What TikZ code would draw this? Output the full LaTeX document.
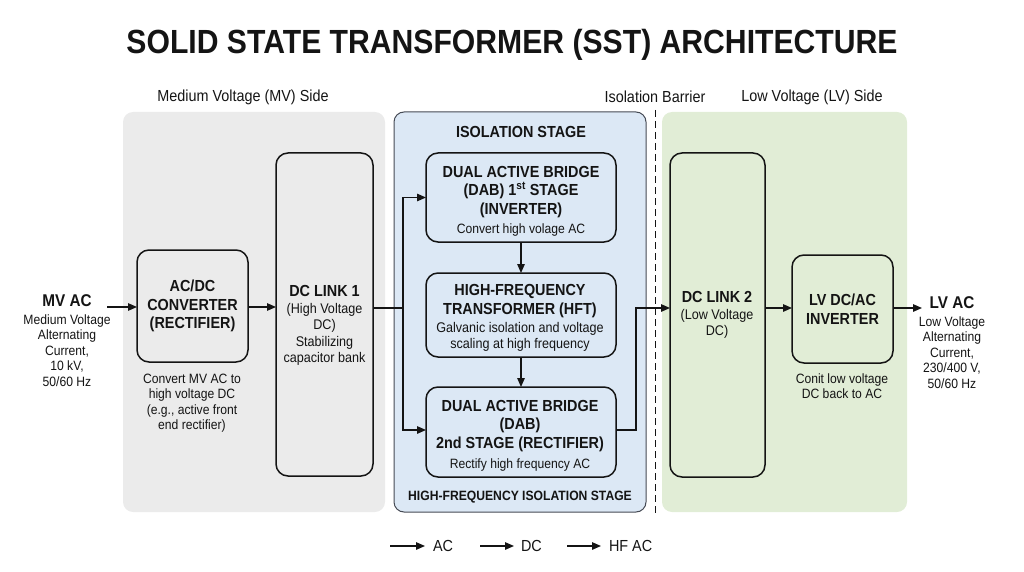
\documentclass[tikz,border=0pt]{standalone}
\usepackage{fontspec}
\setmainfont{Liberation Sans}[FakeStretch=0.9]
\usetikzlibrary{arrows.meta,calc}
\definecolor{greyp}{RGB}{235,235,235}
\definecolor{bluep}{RGB}{220,232,245}
\definecolor{greenp}{RGB}{225,237,214}
\definecolor{ink}{RGB}{20,20,20}
\definecolor{bluebd}{RGB}{70,75,85}
\newcommand\myTitle{\fontsize{33.5}{40}\selectfont\bfseries}
\newcommand\mySec{\fontsize{16}{19}\selectfont}
\newcommand\myBold{\fontsize{16}{18.5}\selectfont\bfseries}
\newcommand\myReg{\fontsize{14}{16.5}\selectfont}
\newcommand\mySmall{\fontsize{13.5}{15.5}\selectfont}
\tikzset{
  panel/.style={rounded corners=10pt},
  blk/.style={draw=ink, line width=1.5pt, rounded corners=12pt, inner sep=0pt, outer sep=0pt},
  txt/.style={align=center, inner sep=0pt, outer sep=0pt, text=ink},
  arr/.style={-{Triangle[length=9pt,width=7.5pt]}, line width=1.3pt, draw=ink},
  ln/.style={line width=1.3pt, draw=ink},
}
\begin{document}
\begin{tikzpicture}[x=1pt,y=-1pt]
\useasboundingbox (0,0) rectangle (1024,572);
% panels
\fill[greyp,panel] (123,112) rectangle (385,512);
\filldraw[fill=bluep,draw=bluebd,line width=1pt,panel] (394,112) rectangle (646,512);
\fill[greenp,panel] (662,112) rectangle (907,512);
\draw[ink,line width=1pt,dash pattern=on 7pt off 4pt] (655,110) -- (655,515);
% titles
\node[txt,font=\myTitle] (title) at (512,45) {SOLID STATE TRANSFORMER (SST) ARCHITECTURE};
\node[txt,font=\mySec] (mvside) at (243,97) {Medium Voltage (MV) Side};
\node[txt,font=\mySec] (isob) at (655,97) {Isolation Barrier};
\node[txt,font=\mySec] (lvside) at (812,97) {Low Voltage (LV) Side};
\node[txt,font=\mySec\bfseries] (isost) at (521,132) {ISOLATION STAGE};
\node[txt,font=\fontsize{13.5}{16}\selectfont\bfseries] (hfis) at (520,497) {HIGH-FREQUENCY ISOLATION STAGE};
% boxes
\node[blk,minimum width=111pt,minimum height=112pt] (acdc) at (192.5,306) {};
\node[blk,minimum width=97pt,minimum height=323pt] (dcl1) at (324.5,314.5) {};
\node[blk,minimum width=190pt,minimum height=89pt] (dab1) at (521,197.5) {};
\node[blk,minimum width=190pt,minimum height=84pt] (hft) at (521,315) {};
\node[blk,minimum width=190pt,minimum height=90pt] (dab2) at (521,432) {};
\node[blk,minimum width=95pt,minimum height=324pt] (dcl2) at (717.5,315) {};
\node[blk,minimum width=101pt,minimum height=108pt] (lvinv) at (842.5,309) {};
% box texts
\node[txt,font=\myBold] (acdcT) at (192.5,306) {AC/DC\\CONVERTER\\(RECTIFIER)};
\node[txt,font=\mySmall] (acdcC) at (192,403) {Convert MV AC to\\high voltage DC\\(e.g., active front\\end rectifier)};
\node[txt,font=\myReg] (dcl1T) at (324.5,325.5) {{\myBold DC LINK 1}\\(High Voltage\\DC)\\Stabilizing\\capacitor bank};
\node[txt,font=\mySmall] (dab1T) at (521,201) {{\myBold DUAL ACTIVE BRIDGE}\\[3pt]{\myBold (DAB) 1\textsuperscript{st} STAGE}\\[3pt]{\myBold (INVERTER)}\\[3.5pt]Convert high volage AC};
\node[txt,font=\mySmall] (hftT) at (520,318) {{\myBold HIGH-FREQUENCY}\\[3pt]{\myBold TRANSFORMER (HFT)}\\[3pt]{\fontsize{14}{16}\selectfont Galvanic isolation and voltage}\\[0.5pt]{\fontsize{14}{16}\selectfont scaling at high frequency}};
\node[txt,font=\mySmall] (dab2T) at (520,435.5) {{\myBold DUAL ACTIVE BRIDGE}\\[3pt]{\myBold (DAB)}\\[3pt]{\myBold 2nd STAGE (RECTIFIER)}\\[4.5pt]Rectify high frequency AC};
\node[txt,font=\myReg] (dcl2T) at (717,315) {{\myBold DC LINK 2}\\(Low Voltage\\DC)};
\node[txt,font=\myBold] (lvinvT) at (842.5,309) {LV DC/AC\\INVERTER};
\node[txt,font=\mySmall] (lvinvC) at (842,386) {Conit low voltage\\DC back to AC};
% side texts
\node[txt,font=\mySmall] (mvac) at (67,340.5) {{\fontsize{17}{19}\selectfont\bfseries MV AC}\\[2pt]Medium Voltage\\Alternating\\Current,\\10 kV,\\50/60 Hz};
\node[txt,font=\mySmall] (lvac) at (952,342.5) {{\fontsize{17}{19}\selectfont\bfseries LV AC}\\[2pt]Low Voltage\\Alternating\\Current,\\230/400 V,\\50/60 Hz};
% connectors
\coordinate (inA) at (107,307);
\coordinate (outA) at (922,308);
\coordinate (split) at (403,308);
\coordinate (join) at (636,308);
\draw[arr] (inA) -- (inA -| acdc.west);
\draw[arr] (acdc.east |- inA) -- (dcl1.west |- inA);
\draw[ln] (dcl1.east |- split) -- (split);
\draw[arr] (split) |- (dab1.west);
\draw[arr] (split) |- ($(dab2.west)+(0,-2)$);
\draw[arr] (dab1.south) -- (hft.north);
\draw[arr] (hft.south) -- (dab2.north);
\draw[arr] ($(dab2.east)+(0,-2)$) -| (join) -- (join -| dcl2.west);
\draw[arr] (dcl2.east |- outA) -- (lvinv.west |- outA);
\draw[arr] (lvinv.east |- outA) -- (outA);
% legend
\node[txt,font=\mySec,anchor=west] (legAC) at (433,546) {AC};
\node[txt,font=\mySec,anchor=west] (legDC) at (521,546) {DC};
\node[txt,font=\mySec,anchor=west] (legHF) at (609,546) {HF AC};
\coordinate (tAC) at (390,546);
\coordinate (tDC) at (480,546);
\coordinate (tHF) at (567,546);
\draw[arr] (tAC) -- ($(legAC.west)+(-8,0)$);
\draw[arr] (tDC) -- ($(legDC.west)+(-7,0)$);
\draw[arr] (tHF) -- ($(legHF.west)+(-8,0)$);
\end{tikzpicture}
\end{document}
